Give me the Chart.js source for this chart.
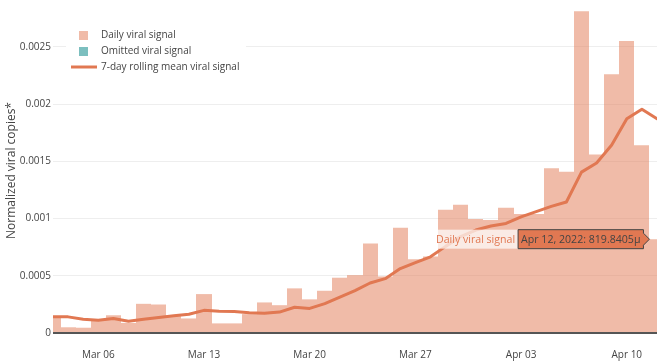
<!DOCTYPE html>
<html>
<head>
<meta charset="utf-8">
<script src="https://cdn.jsdelivr.net/npm/chart.js@4.4.1/dist/chart.umd.min.js"></script>
<style>
  html, body { margin: 0; padding: 0; background: #fff; }
  #chart { display: block; }
</style>
</head>
<body>
<canvas id="chart" width="662" height="361"></canvas>
<script>
// one entry per day, Mar 03 -> Apr 12 2022
const DATES = [
  "Mar 03, 2022", "Mar 04, 2022", "Mar 05, 2022", "Mar 06, 2022", "Mar 07, 2022",
  "Mar 08, 2022", "Mar 09, 2022", "Mar 10, 2022", "Mar 11, 2022", "Mar 12, 2022",
  "Mar 13, 2022", "Mar 14, 2022", "Mar 15, 2022", "Mar 16, 2022", "Mar 17, 2022",
  "Mar 18, 2022", "Mar 19, 2022", "Mar 20, 2022", "Mar 21, 2022", "Mar 22, 2022",
  "Mar 23, 2022", "Mar 24, 2022", "Mar 25, 2022", "Mar 26, 2022", "Mar 27, 2022",
  "Mar 28, 2022", "Mar 29, 2022", "Mar 30, 2022", "Mar 31, 2022", "Apr 01, 2022",
  "Apr 02, 2022", "Apr 03, 2022", "Apr 04, 2022", "Apr 05, 2022", "Apr 06, 2022",
  "Apr 07, 2022", "Apr 08, 2022", "Apr 09, 2022", "Apr 10, 2022", "Apr 11, 2022",
  "Apr 12, 2022",
];

const DAILY = [
  0.000148, 0.000050, 0.000046, 0.000118, 0.000155,
  0.000088, 0.000255, 0.000249, 0.000148, 0.000127,
  0.000340, 0.000084, 0.000084, 0.000165, 0.000267,
  0.000243, 0.000390, 0.000294, 0.000369, 0.000483,
  0.000506, 0.000783, 0.000494, 0.000920, 0.000645,
  0.000668, 0.001078, 0.001120, 0.000997, 0.000988,
  0.001094, 0.001040, 0.001040, 0.001440, 0.001408,
  0.002812, 0.001560, 0.002262, 0.002552, 0.001640,
  0.0008198405,
];

const ROLLING = [
  0.000143, 0.000141, 0.000120, 0.000112, 0.000126,
  0.000103, 0.000121, 0.000136, 0.000150, 0.000164,
  0.000198, 0.000190, 0.000188, 0.000177, 0.000172,
  0.000183, 0.000225, 0.000215, 0.000257, 0.000314,
  0.000371, 0.000437, 0.000475, 0.000563, 0.000615,
  0.000666, 0.000757, 0.000843, 0.000900, 0.000935,
  0.000957, 0.001015, 0.001060, 0.001106, 0.001145,
  0.001406, 0.001486, 0.001643, 0.001872, 0.001955,
  0.001872,
];

const X_TICK_DAYS = [3, 10, 17, 24, 31, 38];
const X_TICK_LABELS = ["Mar 06", "Mar 13", "Mar 20", "Mar 27", "Apr 03", "Apr 10"];
const Y_TICKS = [0, 0.0005, 0.001, 0.0015, 0.002, 0.0025];
const Y_TICK_LABELS = ["0", "0.0005", "0.001", "0.0015", "0.002", "0.0025"];

const HOVER_INDEX = 40;

const LINE_COLOR = "rgb(225, 120, 82)";
const BAR_COLOR = "rgba(225, 120, 82, 0.5)";
const OMIT_COLOR = "rgba(80, 170, 170, 0.75)";
const TEXT = "#444";

Chart.defaults.font.family = "'Open Sans', sans-serif";
Chart.defaults.font.size = 10;
Chart.defaults.color = TEXT;

// snap bar edges to whole pixels so neighbouring bars meet without seams
const snapBars = {
  id: "snapBars",
  beforeDatasetsDraw(chart) {
    chart.getDatasetMeta(0).data.forEach((el) => {
      const l = Math.round(el.x - el.width / 2);
      const r = Math.round(el.x + el.width / 2);
      el.x = (l + r) / 2;
      el.width = r - l;
    });
  },
};

// legend box + plotly-like hover label, drawn on top
const overlay = {
  id: "overlay",
  afterDraw(chart) {
    const ctx = chart.ctx;
    ctx.save();

    // legend
    ctx.fillStyle = "#fff";
    ctx.fillRect(66, 25, 180, 52);
    ctx.font = "10px 'Open Sans'";
    ctx.textBaseline = "middle";
    ctx.textAlign = "left";
    ctx.fillStyle = BAR_COLOR;
    ctx.fillRect(79, 31, 9, 9);
    ctx.fillStyle = OMIT_COLOR;
    ctx.fillRect(79, 47, 9, 9);
    ctx.strokeStyle = LINE_COLOR;
    ctx.lineWidth = 3;
    ctx.beginPath();
    ctx.moveTo(71, 67);
    ctx.lineTo(97, 67);
    ctx.stroke();
    ctx.fillStyle = TEXT;
    ctx.fillText("Daily viral signal", 101, 35);
    ctx.fillText("Omitted viral signal", 101, 51);
    ctx.fillText("7-day rolling mean viral signal", 101, 67);

    // hover label on last bar
    const xs = chart.scales.x;
    const step = xs.getPixelForValue(1) - xs.getPixelForValue(0);
    const tipX = xs.getPixelForValue(HOVER_INDEX) - step / 2;
    const tipY = chart.scales.y.getPixelForValue(DAILY[HOVER_INDEX]);
    const pad = 3;
    const h = 19;
    ctx.font = "10.6px 'Open Sans'";
    const txt = DATES[HOVER_INDEX] + ": " + (DAILY[HOVER_INDEX] * 1e6).toFixed(4) + "\u00b5";
    const w = ctx.measureText(txt).width + pad * 2;
    const right = tipX - 6;
    const left = right - w;
    const top = tipY - h / 2;

    const name = "Daily viral signal";
    const nw = ctx.measureText(name).width + pad * 2;
    ctx.fillStyle = "rgba(255, 255, 255, 0.7)";
    ctx.fillRect(left - nw, top, nw, h);
    ctx.fillStyle = LINE_COLOR;
    ctx.fillText(name, left - nw + pad, tipY + 0.5);

    ctx.beginPath();
    ctx.moveTo(tipX, tipY);
    ctx.lineTo(right, tipY - 6);
    ctx.lineTo(right, top);
    ctx.lineTo(left, top);
    ctx.lineTo(left, top + h);
    ctx.lineTo(right, top + h);
    ctx.lineTo(right, tipY + 6);
    ctx.closePath();
    ctx.fillStyle = LINE_COLOR;
    ctx.fill();
    ctx.strokeStyle = TEXT;
    ctx.lineWidth = 1;
    ctx.stroke();
    ctx.fillStyle = TEXT;
    ctx.fillText(txt, left + pad, tipY + 0.5);

    ctx.restore();
  },
};

const ctx = document.getElementById("chart").getContext("2d");

new Chart(ctx, {
  type: "bar",
  data: {
    datasets: [
      {
        type: "bar",
        label: "Daily viral signal",
        data: DAILY.map((v, i) => ({ x: i, y: v })),
        backgroundColor: BAR_COLOR,
        borderWidth: 0,
        inflateAmount: 0,
        barPercentage: 1,
        categoryPercentage: 1,
        order: 2,
      },
      {
        type: "line",
        label: "7-day rolling mean viral signal",
        data: ROLLING.map((v, i) => ({ x: i, y: v })),
        borderColor: LINE_COLOR,
        borderWidth: 3,
        borderJoinStyle: "round",
        borderCapStyle: "round",
        pointRadius: 0,
        tension: 0,
        order: 1,
      },
    ],
  },
  options: {
    responsive: false,
    animation: false,
    events: [],
    layout: { padding: { left: 0, right: 5, top: 2, bottom: 0 } },
    scales: {
      x: {
        type: "linear",
        min: 0,
        max: DATES.length - 1,
        offset: false,
        grid: { display: false, offset: false, drawTicks: false },
        border: { display: false },
        afterBuildTicks: (scale) => {
          scale.ticks = X_TICK_DAYS.map((v) => ({ value: v }));
        },
        afterFit: (scale) => {
          scale.height = 28;
        },
        ticks: {
          autoSkip: false,
          maxRotation: 0,
          padding: 16,
          color: TEXT,
          font: { size: 10 },
          callback: (value, index) => X_TICK_LABELS[index],
        },
      },
      y: {
        min: 0,
        max: 0.00284,
        grid: {
          drawTicks: false,
          color: (c) => (c.tick && c.tick.value === 0 ? "#555" : "#eee"),
          lineWidth: (c) => (c.tick && c.tick.value === 0 ? 2 : 1),
        },
        border: { display: false },
        afterBuildTicks: (scale) => {
          scale.ticks = Y_TICKS.map((v) => ({ value: v }));
        },
        afterFit: (scale) => {
          scale.width = 53;
        },
        ticks: {
          padding: 2,
          color: TEXT,
          font: { size: 10 },
          callback: (value, index) => Y_TICK_LABELS[index],
        },
        title: {
          display: true,
          text: "Normalized viral copies*",
          color: TEXT,
          font: { size: 12 },
          padding: { top: 4, bottom: 0 },
        },
      },
    },
    plugins: {
      legend: { display: false },
      tooltip: { enabled: false },
    },
  },
  plugins: [snapBars, overlay],
});
</script>
</body>
</html>
